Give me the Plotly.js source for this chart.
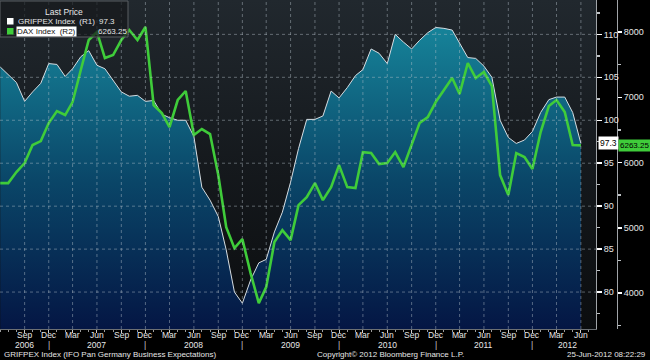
<!DOCTYPE html>
<html>
<head>
<meta charset="utf-8">
<script src="https://cdn.plot.ly/plotly-3.0.1.min.js"></script>
<style>
  html, body { margin:0; padding:0; background:#000; }
  #wrap { position:relative; width:650px; height:360px; overflow:hidden; background:#000; }
  #bg { position:absolute; left:0; top:0; width:596px; height:329px;
        background:linear-gradient(to bottom, #21282e 0%, #15191d 50%, #0b0d0f 100%); }
  #chart { position:absolute; left:0; top:0; width:650px; height:360px; }
</style>
</head>
<body>
<div id="wrap"><div id="bg"></div><div id="chart"></div></div>
<script>
// ---- data (monthly, Jun 2006 – Jun 2012) ----
const months = [
 "2006-06","2006-07","2006-08","2006-09","2006-10","2006-11","2006-12",
 "2007-01","2007-02","2007-03","2007-04","2007-05","2007-06","2007-07","2007-08","2007-09","2007-10","2007-11","2007-12",
 "2008-01","2008-02","2008-03","2008-04","2008-05","2008-06","2008-07","2008-08","2008-09","2008-10","2008-11","2008-12",
 "2009-01","2009-02","2009-03","2009-04","2009-05","2009-06","2009-07","2009-08","2009-09","2009-10","2009-11","2009-12",
 "2010-01","2010-02","2010-03","2010-04","2010-05","2010-06","2010-07","2010-08","2010-09","2010-10","2010-11","2010-12",
 "2011-01","2011-02","2011-03","2011-04","2011-05","2011-06","2011-07","2011-08","2011-09","2011-10","2011-11","2011-12",
 "2012-01","2012-02","2012-03","2012-04","2012-05","2012-06"];

const grifpex = [
 106.2,105.3,104.4,102.2,103.3,104.3,106.6,
 106.5,105.1,106.0,107.4,108.1,106.4,106.0,104.7,103.3,102.8,102.9,102.2,
 102.3,100.7,100.3,100.0,100.0,98.1,92.2,90.7,88.8,84.9,80.0,78.7,
 81.4,83.4,83.8,87.0,89.3,92.8,96.7,100.1,100.1,100.5,103.4,102.6,
 103.8,105.2,105.9,108.3,107.8,106.6,110.0,109.1,108.3,109.3,110.2,110.8,
 110.7,110.5,109.0,107.3,107.2,106.3,105.0,100.0,98.0,97.3,97.7,98.7,
 100.9,102.4,102.7,102.7,100.9,97.3];

const dax = [
 5685,5685,5854,5992,6268,6329,6605,
 6789,6728,6927,7417,7877,8000,7601,7647,7877,8030,7877,8077,
 6881,6758,6544,6958,7096,6421,6513,6436,5808,5010,4689,4827,
 4306,3846,4091,4781,4965,4811,5348,5471,5685,5424,5624,5961,
 5624,5609,6160,6145,5976,5992,6160,5930,6268,6605,6697,6927,
 7111,7295,7050,7525,7295,7387,7172,5808,5501,6145,6084,5900,
 6467,6866,6958,6774,6268,6263.25];

const xTickVals = [
 "2006-09-01","2006-12-01","2007-03-01","2007-06-01","2007-09-01","2007-12-01","2008-03-01","2008-06-01","2008-09-01","2008-12-01",
 "2009-03-01","2009-06-01","2009-09-01","2009-12-01","2010-03-01","2010-06-01","2010-09-01","2010-12-01","2011-03-01","2011-06-01",
 "2011-09-01","2011-12-01","2012-03-01","2012-06-01"];
const xTickText = ["Sep","Dec","Mar","Jun","Sep","Dec","Mar","Jun","Sep","Dec","Mar","Jun","Sep","Dec","Mar","Jun","Sep","Dec","Mar","Jun","Sep","Dec","Mar","Jun"];
const yearLabels = ["2006","2007","2008","2009","2010","2011","2012"];
const yearPos = ["2006-09-01","2007-06-01","2008-06-01","2009-06-01","2010-06-01","2011-06-01","2012-04-12"];
const yearSepPos = ["2006-12-01","2007-12-01","2008-12-01","2009-12-01","2010-12-01","2011-12-01"];
const r1Ticks = [80,85,90,95,100,105,110];
const r2Ticks = [4000,5000,6000,7000,8000];

const names = ["GRIFPEX Index\u00a0 (R1)", "DAX Index\u00a0 (R2)"];
const lastVals = ["97.3", "6263.25"];

// ---- geometry helpers ----
const PW = 620, PH = 329;           // plot area in px (x domain ends at 596)
const px = v => v / PW;
const py = v => 1 - v / PH;
const FONT = "Liberation Sans, Arial, sans-serif";
const GREEN = "#3fcc3a";
const TXT = "#e6e6e6";

const traces = [
 { x: months, y: grifpex, type: "scatter", mode: "lines", yaxis: "y",
   line: { color: "#d6dde2", width: 1 },
   fill: "tozeroy",
   fillgradient: { type: "vertical", start: 75.7, stop: 114,
     colorscale: [[0, "#041644"], [0.45, "#0a4668"], [1, "#188ea2"]] },
   hoverinfo: "skip" },
 { x: months, y: dax, type: "scatter", mode: "lines", yaxis: "y2",
   line: { color: GREEN, width: 2.6 }, hoverinfo: "skip" }
];

const shapes = [];
r1Ticks.forEach(v => shapes.push({ type: "line", xref: "paper", yref: "y", x0: 0, x1: px(596), y0: v, y1: v,
   layer: "above", line: { color: "rgba(185,195,205,0.45)", width: 1, dash: "dot" } }));
xTickVals.forEach(v => shapes.push({ type: "line", xref: "x", yref: "paper", x0: v, x1: v, y0: 0, y1: 1,
   layer: "above", line: { color: "rgba(185,195,205,0.45)", width: 1, dash: "dot" } }));
// legend box (semi-transparent, the line shows faintly through)
shapes.push({ type: "rect", xref: "paper", yref: "paper", x0: px(0), x1: px(128), y0: py(37), y1: py(1),
   layer: "above", fillcolor: "rgba(22,25,28,0.72)", line: { color: "#5a5f63", width: 1 } });
shapes.push({ type: "rect", xref: "paper", yref: "paper", x0: px(7), x1: px(13.5), y0: py(24.5), y1: py(18),
   layer: "above", fillcolor: "#ffffff", line: { width: 0 } });
shapes.push({ type: "rect", xref: "paper", yref: "paper", x0: px(7), x1: px(13.5), y0: py(34.5), y1: py(28),
   layer: "above", fillcolor: GREEN, line: { width: 0 } });

const txt = (text, x, y, opts = {}) => Object.assign({
   text, xref: "paper", yref: "paper", x: px(x), y: py(y), showarrow: false,
   xanchor: "left", yanchor: "middle", font: { family: FONT, size: 8, color: TXT } }, opts);

const annotations = [
 txt("Last Price", 64, 12, { xanchor: "center", font: { family: FONT, size: 8.5, color: TXT } }),
 txt(names[0], 16, 21.5),
 txt(lastVals[0], 97, 21.5),
 txt(names[1], 16, 31, { bgcolor: "#ffffff", font: { family: FONT, size: 8, color: "#111" }, borderpad: 0 }),
 txt(lastVals[1], 96, 31),
 // footer
 txt("GRIFPEX Index (IFO Pan Germany Business Expectations)", 2, 354),
 txt("Copyright\u00a9 2012 Bloomberg Finance L.P.", 315, 354),
 txt("25-Jun-2012 08:22:29", 648, 354, { xanchor: "right" }),
 // last value flags
 { text: lastVals[0], xref: "paper", yref: "y", x: px(598), y: grifpex[grifpex.length - 1],
   xanchor: "left", yanchor: "middle", showarrow: false, bgcolor: "#ffffff", borderpad: 1,
   font: { family: FONT, size: 8.5, color: "#000" } },
 { text: lastVals[1], xref: "paper", yref: "y2", x: px(618), y: dax[dax.length - 1],
   xanchor: "left", yanchor: "middle", showarrow: false, bgcolor: GREEN, borderpad: 1,
   font: { family: FONT, size: 8, color: "#000" } }
];
xTickText.forEach((t, i) => annotations.push({ text: t, xref: "x", yref: "paper", x: xTickVals[i], y: py(335),
   showarrow: false, xanchor: "center", yanchor: "middle", font: { family: FONT, size: 8.5, color: TXT } }));
yearLabels.forEach((t, i) => annotations.push({ text: t, xref: "x", yref: "paper", x: yearPos[i], y: py(344.5),
   showarrow: false, xanchor: "center", yanchor: "middle", font: { family: FONT, size: 8.5, color: TXT } }));
yearSepPos.forEach(d => annotations.push({ text: "|", xref: "x", yref: "paper", x: d, y: py(344.5),
   showarrow: false, xanchor: "center", yanchor: "middle", font: { family: FONT, size: 8.5, color: "#cfcfcf" } }));

const layout = {
 width: 650, height: 360,
 margin: { l: 0, r: 650 - PW, t: 0, b: 360 - PH, pad: 0 },
 paper_bgcolor: "rgba(0,0,0,0)", plot_bgcolor: "rgba(0,0,0,0)",
 showlegend: false,
 font: { family: FONT, size: 9, color: TXT },
 xaxis: { type: "date", domain: [0, 596 / PW], range: ["2006-05-31", "2012-07-28"],
   tickvals: xTickVals, showticklabels: false, showgrid: false, zeroline: false,
   showline: true, linecolor: "#6b6f73", linewidth: 1,
   ticks: "outside", ticklen: 3, tickcolor: "#cfcfcf",
   minor: { tick0: "2006-06-01", dtick: "M1", ticks: "outside", ticklen: 2, tickcolor: "#9a9a9a", showgrid: false },
   fixedrange: true },
 yaxis: { side: "right", anchor: "x", range: [75.7, 114], tickvals: r1Ticks,
   showgrid: false, zeroline: false, showline: true, linecolor: "#a0a4a8", linewidth: 1,
   ticks: "outside", ticklen: 5, tickwidth: 1.5, tickcolor: "#ffffff",
   minor: { dtick: 2.5, tick0: 0, ticks: "outside", ticklen: 3, tickcolor: "#bfc3c6", showgrid: false },
   tickfont: { family: FONT, size: 9, color: TXT }, fixedrange: true },
 yaxis2: { side: "right", overlaying: "y", anchor: "free", position: 617 / PW, range: [3450, 8490],
   tickvals: r2Ticks, showgrid: false, zeroline: false, showline: true, linecolor: "#a0a4a8", linewidth: 1,
   ticks: "outside", ticklen: 4, tickwidth: 1.5, tickcolor: "#ffffff",
   minor: { dtick: 500, tick0: 0, ticks: "outside", ticklen: 3, tickcolor: "#bfc3c6", showgrid: false },
   tickfont: { family: FONT, size: 9, color: TXT }, fixedrange: true },
 shapes, annotations
};

Plotly.newPlot("chart", traces, layout, { displayModeBar: false, staticPlot: true });
</script>
</body>
</html>
